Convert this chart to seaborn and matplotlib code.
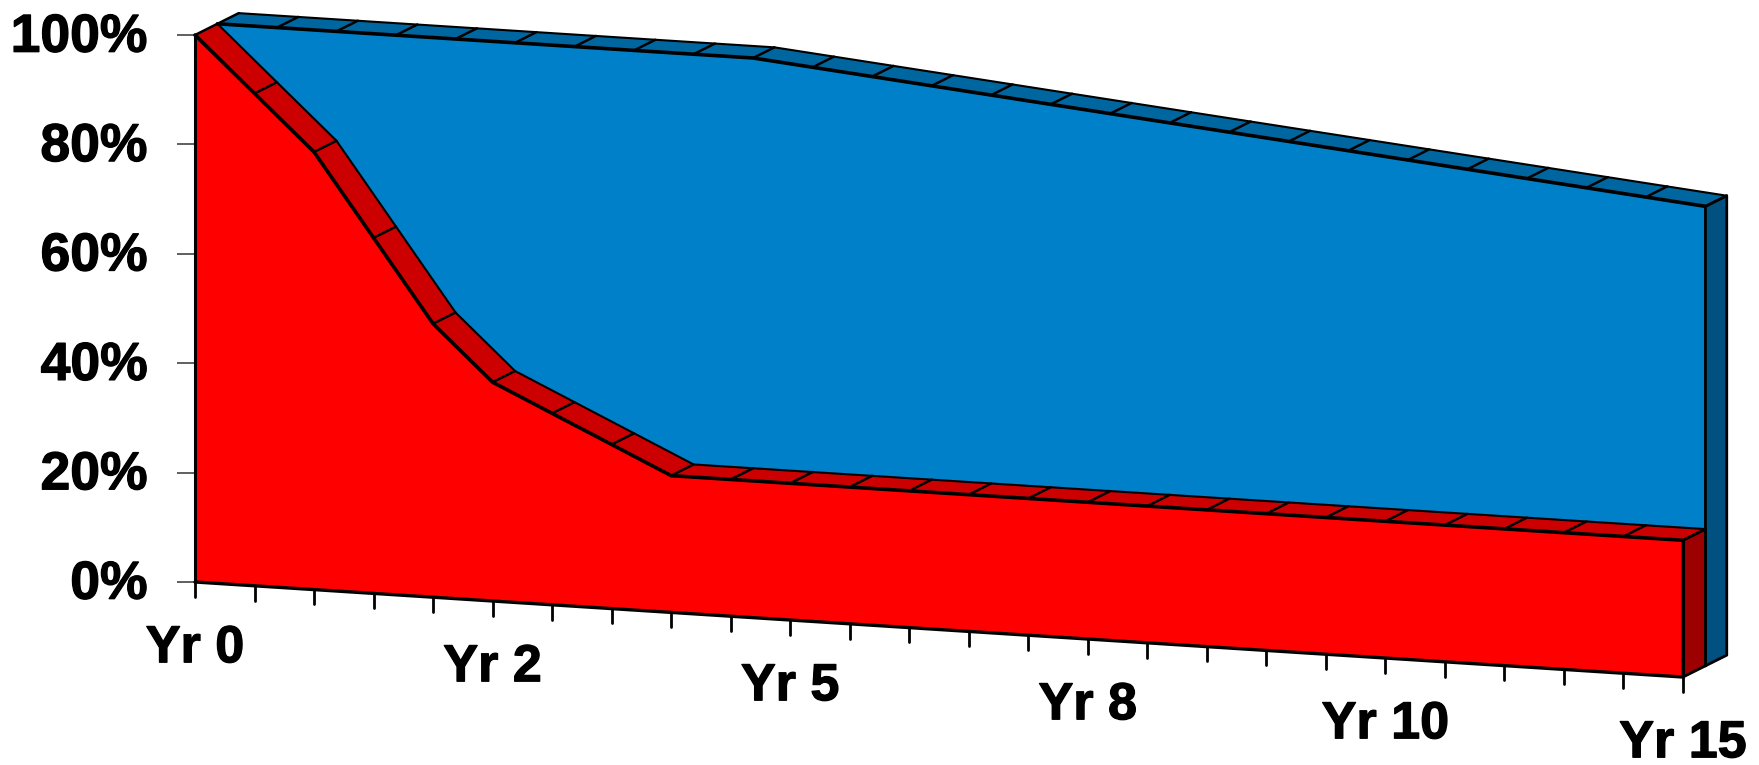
import numpy as np
import matplotlib
matplotlib.use("Agg")
import matplotlib.pyplot as plt
import matplotlib.patheffects as pe
from matplotlib.transforms import ScaledTranslation
import seaborn as sns

# values, one point per tick
steps = list(range(26))
red_values = [100, 90, 80, 65, 50, 40, 35, 30, 25, 25, 25, 25, 25, 25, 25, 25, 25,
              25, 25, 25, 25, 25, 25, 25, 25, 25]
blue_values = [100, 100, 100, 100, 100, 100, 100, 100, 100, 100, 99, 98, 97, 96, 95,
               94, 93, 92, 91, 90, 89, 88, 87, 86, 85, 84]
tick_labels = ["Yr 0", "Yr 2", "Yr 5", "Yr 8", "Yr 10", "Yr 15"]
tick_steps = [0, 5, 10, 15, 20, 25]
y_ticks = [0, 20, 40, 60, 80, 100]

RED, RED_TOP, RED_SIDE = "#FF0000", "#CC0000", "#9C0000"
BLUE, BLUE_TOP, BLUE_SIDE = "#0080C8", "#0066A0", "#005080"

# fake 3D look: baseline runs downhill, each series sits one depth step back
SLOPE = 0.695
DX, DY = 0.377, 2.05

# the labels are a touch heavier than plain bold
heavy = [pe.withStroke(linewidth=0.9, foreground="black")]


def project(i, v, depth=0.0):
    i = np.asarray(i, dtype=float)
    v = np.asarray(v, dtype=float)
    return i + depth * DX, v - i * SLOPE + depth * DY


def outline(ax, i, v, depth=0.0, lw=2.0):
    px, py = project(i, v, depth)
    sns.lineplot(x=px, y=py, ax=ax, color="black", lw=lw, sort=False, estimator=None,
                 clip_on=False, zorder=5)


def band(ax, values, d0, d1, color):
    # slanted top of a series, cut into one panel per step
    for k in range(len(values) - 1):
        i = [steps[k], steps[k + 1], steps[k + 1], steps[k]]
        v = [values[k], values[k + 1], values[k + 1], values[k]]
        x0, y0 = project(i[:2], v[:2], d0)
        x1, y1 = project(i[2:], v[2:], d1)
        ax.fill(np.r_[x0, x1], np.r_[y0, y1], color=color, lw=0, clip_on=False, zorder=3)
    for k in range(len(values)):
        x0, y0 = project(steps[k], values[k], d0)
        x1, y1 = project(steps[k], values[k], d1)
        ax.plot([x0, x1], [y0, y1], color="black", lw=1.8, clip_on=False, zorder=4)
    outline(ax, steps, values, d1, lw=1.5)
    outline(ax, steps, values, d0, lw=2.6)


def side(ax, top, d0, d1, color):
    i = steps[-1]
    x0, y0 = project([i, i], [0, top], d0)
    x1, y1 = project([i, i], [top, 0], d1)
    ax.fill(np.r_[x0, x1], np.r_[y0, y1], color=color, lw=0, clip_on=False, zorder=2)
    px, py = np.r_[x0, x1, x0[0]], np.r_[y0, y1, y0[0]]
    ax.plot(px, py, color="black", lw=2.0, clip_on=False, zorder=4)


sns.set_theme(style="white")
plt.rcParams["font.family"] = ["Liberation Sans", "DejaVu Sans"]

fig = plt.figure(figsize=(17.59, 7.65), dpi=100)
ax = fig.add_axes([195 / 1759, 1 - 582 / 765, (1683 - 195) / 1759, (582 - 35) / 765])

# blue series, one depth step back
bx, by_top = project(steps, blue_values, 1.0)
_, by_base = project(steps, np.zeros(len(steps)), 1.0)
ax.fill_between(bx, by_base, by_top, color=BLUE, lw=0, clip_on=False, zorder=1)
side(ax, blue_values[-1], 1.0, 1.95, BLUE_SIDE)
band(ax, blue_values, 1.0, 1.95, BLUE_TOP)

# red series at the front
rx, ry_top = project(steps, red_values, 0.0)
_, ry_base = project(steps, np.zeros(len(steps)), 0.0)
ax.fill_between(rx, ry_base, ry_top, color=RED, lw=0, clip_on=False, zorder=3.5)
side(ax, red_values[-1], 0.0, 1.0, RED_SIDE)
band(ax, red_values, 0.0, 1.0, RED_TOP)
outline(ax, steps, np.zeros(len(steps)), 0.0, lw=2.4)
outline(ax, [0, 0], [0, 100], 0.0, lw=2.2)
outline(ax, [25, 25], [0, red_values[-1]], 0.0, lw=2.2)

# slanted x axis ticks and labels
for k in steps:
    px, py = project([k, k], [0, -2.7])
    ax.plot(px, py, color="black", lw=2.0, clip_on=False, zorder=5)
for k, label in zip(tick_steps, tick_labels):
    px, py = project(k, -12.2)
    ax.text(px, py, label, ha="center", va="center", fontsize=37.5, fontweight="bold",
            color="black", clip_on=False, path_effects=heavy)

ax.set_xlim(0, 25)
ax.set_ylim(0, 100)
ax.set_xticks([])
ax.set_yticks(y_ticks)
ax.set_yticklabels([f"{t}%" for t in y_ticks], fontsize=38.5, fontweight="bold", color="black")
ax.tick_params(axis="y", length=13, width=1.2, color="#444444", pad=21, left=True)
for lab in ax.get_yticklabels():
    lab.set_path_effects(heavy)
    lab.set_transform(lab.get_transform() + ScaledTranslation(0, 2 / 72, fig.dpi_scale_trans))
ax.set_xlabel("")
ax.set_ylabel("")
ax.patch.set_alpha(0)
sns.despine(ax=ax, left=True, bottom=True)

fig.savefig("out.png", dpi=100)
